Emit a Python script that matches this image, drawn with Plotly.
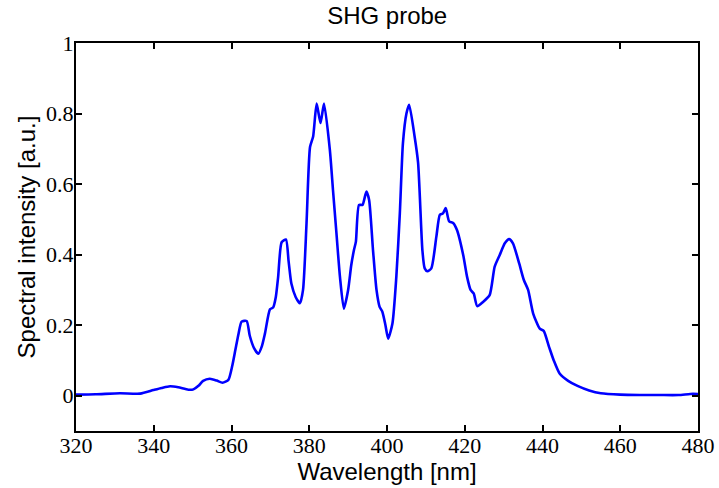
import plotly.graph_objects as go

wavelength = [320, 325, 331.3, 336.5, 339.9, 342, 344.2, 346.3, 348.9, 350.2, 351.5, 352.7, 354.4, 356.2, 357.7, 359.2,
              360.2, 361, 361.8, 362.6, 363.9, 364.7, 365.8, 366.9, 367.8, 368.6, 369.9, 370.7, 371.4, 372, 372.9, 374,
              374.7, 375.4, 376.5, 377.6, 378.4, 379.3, 380.2, 381, 381.9, 382.9, 383.8, 385.3, 386.1, 387, 387.9,
              388.9, 390, 390.8, 391.5, 392, 392.8, 393.7, 394.7, 395.4, 396.4, 397.3, 398.1, 398.8, 399.6, 400.3,
              401.4, 402.4, 403.3, 404.1, 405, 405.7, 407.1, 408, 409.1, 409.7, 410.4, 411.4, 412.7, 413.6, 414.4,
              415.1, 416, 417, 418, 419.6, 420.6, 421.5, 422.3, 423.2, 424.7, 426.4, 427.7, 429, 430.3, 431.4, 432.4,
              434, 435.2, 436.3, 437.6, 439.3, 440.3, 441.7, 442.9, 444.4, 446.6, 449, 452, 455, 460, 465, 470, 475,
              478, 480]
intensity = [0.003, 0.004, 0.007, 0.006, 0.016, 0.022, 0.027, 0.024, 0.017, 0.018, 0.028, 0.042, 0.048, 0.043, 0.037, 0.045,
             0.085, 0.13, 0.175, 0.21, 0.212, 0.17, 0.135, 0.119, 0.14, 0.176, 0.245, 0.25, 0.28, 0.337, 0.435, 0.443,
             0.38, 0.318, 0.28, 0.262, 0.3, 0.489, 0.705, 0.735, 0.828, 0.773, 0.828, 0.697, 0.584, 0.46, 0.337,
             0.247, 0.3, 0.37, 0.413, 0.437, 0.541, 0.541, 0.579, 0.555, 0.413, 0.3, 0.252, 0.238, 0.2, 0.162,
             0.205, 0.337, 0.517, 0.716, 0.8, 0.825, 0.735, 0.66, 0.413, 0.361, 0.353, 0.361, 0.451, 0.513, 0.517,
             0.532, 0.494, 0.49, 0.47, 0.399, 0.337, 0.3, 0.29, 0.254, 0.266, 0.285, 0.366, 0.399, 0.432, 0.444, 0.432,
             0.375, 0.328, 0.3, 0.233, 0.19, 0.184, 0.138, 0.1, 0.063, 0.042, 0.028, 0.015, 0.007, 0.003, 0.002, 0.002, 0.002,
             0.005, 0.005]

x_ticks = [320, 340, 360, 380, 400, 420, 440, 460, 480]
y_ticks = [0, 0.2, 0.4, 0.6, 0.8, 1]
y_tick_text = ["0", "0.2", "0.4", "0.6", "0.8", "1"]

fig = go.Figure()
fig.add_trace(go.Scatter(x=wavelength, y=intensity, mode="lines",
                         line=dict(color="#0000ff", width=2.6, shape="spline", smoothing=0.6),
                         showlegend=False, hoverinfo="skip"))

axis_common = dict(showline=True, linewidth=2, linecolor="black", mirror="ticks",
                   ticks="inside", ticklen=6, tickwidth=2, tickcolor="black",
                   showgrid=False, zeroline=False, automargin=False,
                   tickfont=dict(family="Liberation Serif", size=22, color="black"))

fig.update_layout(
    width=719, height=488,
    margin=dict(l=76, r=21, t=43, b=57),
    paper_bgcolor="white", plot_bgcolor="white",
    title=dict(text="SHG probe", x=0.5385, xanchor="center", y=0.969, yanchor="middle",
               font=dict(family="Liberation Sans", size=24, color="black")),
    xaxis=dict(range=[320, 480], tickvals=x_ticks, ticktext=[str(v) for v in x_ticks],
               ticklabelstandoff=-6,
               title=dict(text="Wavelength [nm]", standoff=0,
                          font=dict(family="Liberation Sans", size=24, color="black")),
               **axis_common),
    yaxis=dict(range=[-0.1, 1], tickvals=y_ticks, ticktext=y_tick_text,
               ticklabelstandoff=-4,
               title=dict(text="Spectral intensity [a.u.]", standoff=4,
                          font=dict(family="Liberation Sans", size=24, color="black")),
               **axis_common),
)

fig.write_html("out.html", config={"displayModeBar": False},
               post_script="document.body.style.margin='0';")
